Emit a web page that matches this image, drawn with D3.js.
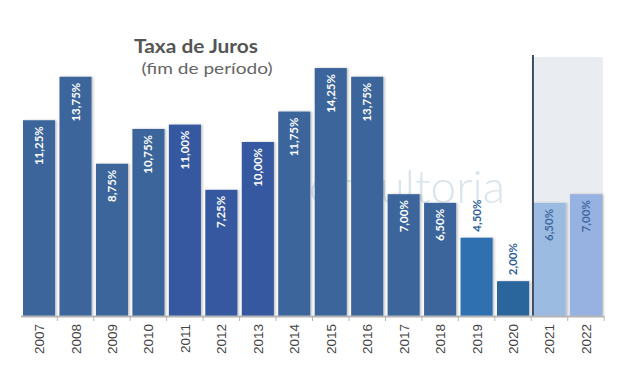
<!DOCTYPE html>
<html><head><meta charset="utf-8">
<script src="https://cdn.jsdelivr.net/npm/d3@7"></script>
<style>body{margin:0;background:#fff}svg{display:block}</style>
</head><body>
<svg id="c" width="638" height="386"></svg>
<script>
const years = ["2007","2008","2009","2010","2011","2012","2013","2014","2015","2016","2017","2018","2019","2020","2021","2022"];
const rates = [11.25,13.75,8.75,10.75,11.00,7.25,10.00,11.75,14.25,13.75,7.00,6.50,4.50,2.00,6.50,7.00];
const labels = ["11,25%","13,75%","8,75%","10,75%","11,00%","7,25%","10,00%","11,75%","14,25%","13,75%","7,00%","6,50%","4,50%","2,00%","6,50%","7,00%"];
const barColors = ["#3B659B","#3B659B","#3B659B","#3B659B","#3558A0","#3558A0","#3558A0","#3B659B","#3B659B","#3B659B","#3B659B","#3B659B","#2E6FB0","#2B659C","#9BBBE0","#97B1E0"];
const projected = ["2021","2022"];
const outsideLabels = ["2019","2020"];

const svg = d3.select("#c");
const x = d3.scaleBand().domain(years).range([23, 602]).paddingInner(0.12).paddingOuter(0);
const y = d3.scaleLinear().domain([0, 16]).range([316, 37.6]);

const defs = svg.append("defs");
const f = defs.append("filter").attr("id","sh").attr("x","-20%").attr("y","-20%").attr("width","150%").attr("height","140%");
f.append("feDropShadow").attr("dx",1.5).attr("dy",0).attr("stdDeviation",1.2).attr("flood-color","#000").attr("flood-opacity",0.25);

// projection shading
const px0 = x(projected[0]);
svg.append("rect").attr("x", px0).attr("y", 57)
  .attr("width", x(projected[1]) + x.bandwidth() + 1 - px0).attr("height", 316 - 57)
  .attr("fill", "#E9EDF1");

// watermark
svg.append("text").attr("x", 505).attr("y", 203).attr("text-anchor","end")
  .attr("font-family","Lato, sans-serif").attr("font-size",46).attr("font-weight",300)
  .attr("fill","#C9D9E6").attr("opacity",0.7).text("Consultoria");

// bars
svg.append("g").selectAll("rect").data(years).join("rect")
  .attr("x", d => x(d)).attr("width", x.bandwidth())
  .attr("y", (d,i) => y(rates[i])).attr("height", (d,i) => y(0) - y(rates[i]))
  .attr("fill", (d,i) => barColors[i]).attr("filter","url(#sh)");

// divider line
svg.append("line").attr("x1", px0 - 0.5).attr("x2", px0 - 0.5).attr("y1", 55).attr("y2", 316)
  .attr("stroke","#3E4D63").attr("stroke-width",2);

// value labels
svg.append("g").selectAll("text").data(years).join("text")
  .attr("transform", (d,i) => {
    const cx = x(d) + x.bandwidth()/2 + 4;
    const ty = outsideLabels.includes(d) ? y(rates[i]) - 6 : y(rates[i]) + 6;
    return `translate(${cx},${ty}) rotate(-90)`;
  })
  .attr("text-anchor", d => outsideLabels.includes(d) ? "start" : "end")
  .attr("font-family","Lato, sans-serif").attr("font-weight",700).attr("font-size",11.5)
  .attr("fill", d => outsideLabels.includes(d) ? "#2F5F9A" : projected.includes(d) ? "#3F6AA5" : "#ffffff")
  .text((d,i) => labels[i]);

// x axis
const axis = d3.axisBottom(x).tickSize(0).tickPadding(0);
const gx = svg.append("g").attr("transform","translate(0,316)").call(axis);
gx.select(".domain").attr("d","M21,0.5H604").attr("stroke","#B5B5B5").attr("stroke-width",2);
gx.selectAll(".tick text")
  .attr("transform","translate(5,8) rotate(-90)")
  .attr("text-anchor","end").attr("dy",0).attr("y",0).attr("x",0)
  .attr("font-family","'Liberation Sans', Arial, sans-serif").attr("font-size",13.5).attr("fill","#444");
// separator ticks
svg.append("g").selectAll("line").data(years).join("line")
  .attr("x1", d => x(d) + x.bandwidth() + x.step()*x.paddingInner()/2)
  .attr("x2", d => x(d) + x.bandwidth() + x.step()*x.paddingInner()/2)
  .attr("y1", 316).attr("y2", 321).attr("stroke","#B5B5B5").attr("stroke-width",1);

// title
svg.append("text").attr("x",196).attr("y",53).attr("text-anchor","middle")
  .attr("font-family","Lato, sans-serif").attr("font-weight",700).attr("font-size",18.5)
  .attr("textLength",124).attr("lengthAdjust","spacingAndGlyphs")
  .attr("fill","#555").text("Taxa de Juros");
svg.append("text").attr("x",207).attr("y",74).attr("text-anchor","middle")
  .attr("font-family","Lato, sans-serif").attr("font-size",15)
  .attr("textLength",131).attr("lengthAdjust","spacingAndGlyphs")
  .attr("fill","#666").text("(fim de período)");
</script>
</body></html>
